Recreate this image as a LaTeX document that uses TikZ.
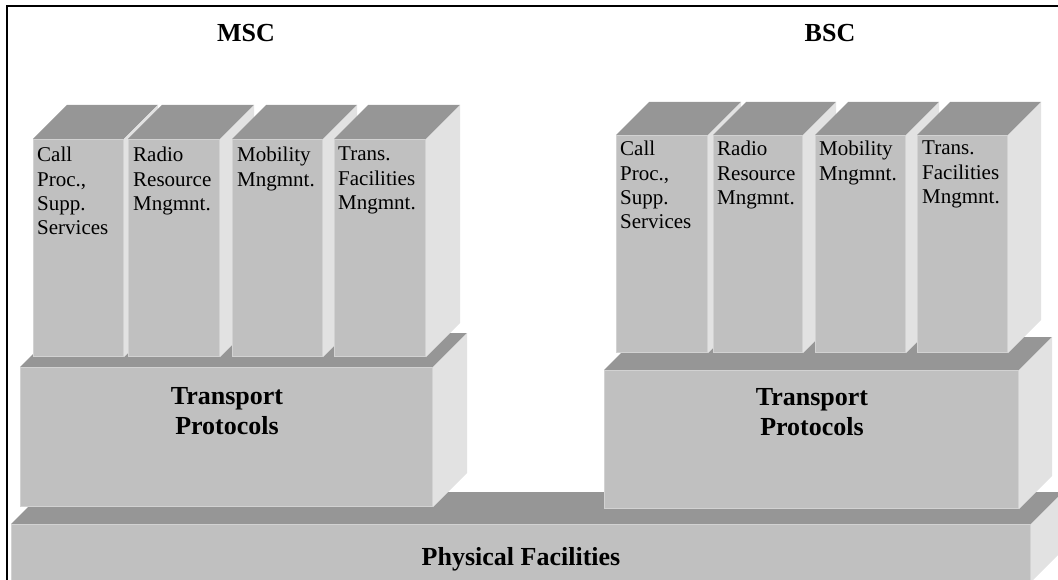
\documentclass[tikz,border=0pt]{standalone}
\usepackage{fontspec}
\setmainfont{Liberation Serif}
\definecolor{topgray}{HTML}{969696}
\definecolor{frontgray}{HTML}{C0C0C0}
\definecolor{sidegray}{HTML}{E2E2E2}
\definecolor{edgegray}{HTML}{D2D2D2}
\tikzset{
  topface/.style={fill=topgray},
  sideface/.style={fill=sidegray},
  frontface/.style={fill=frontgray, draw=edgegray, line width=1.2pt},
  coltext/.style={anchor=north west, inner sep=0pt, align=left,
    font=\fontsize{21}{24.4}\selectfont},
  boldtext/.style={inner sep=0pt, align=center,
    font=\bfseries\fontsize{26}{30.5}\selectfont},
}
% a block seen in oblique view: front x1..x2, top y1, bottom y2, depth d
\newcommand\slab[5]{%
  \fill[topface] (#1,#2) -- (#1+#5,#2-#5) -- (#3+#5,#2-#5) -- (#3,#2) -- cycle;
  \fill[sideface] (#3,#2) -- (#3+#5,#2-#5) -- (#3+#5,#4-#5) -- (#3,#4) -- cycle;
  \filldraw[frontface] (#1+0.6,#2+0.6) rectangle (#3-0.6,#4-0.6);
}
\begin{document}
\begin{tikzpicture}[x=1pt,y=-1pt]
\useasboundingbox (0,0) rectangle (1058,580);
\clip (0,0) rectangle (1058,580);

% outer frame
\draw[line width=2.3pt] (7,585) -- (7,6) -- (1060,6);

% base layer
\slab{11}{524}{1031}{582}{32}

% transport layers
\slab{20}{367}{433}{507}{34}
\slab{604}{370}{1019}{509}{33}

% MSC columns
\slab{33}{139}{124}{357}{34}
\slab{128}{139}{220}{357}{34}
\slab{232}{139}{323}{357}{34}
\slab{334}{139}{426}{357}{34}

% BSC columns
\slab{616}{135}{708}{353}{33}
\slab{713}{135}{803}{353}{33}
\slab{815}{135}{906}{353}{33}
\slab{917}{135}{1008}{353}{33}

% titles
\node[boldtext, anchor=base] (msc) at (246,42) {MSC};
\node[boldtext, anchor=base] (bsc) at (830,42) {BSC};

% MSC function labels
\node[coltext] (mcall) at (37,147) {Call\\Proc.,\\Supp.\\Services};
\node[coltext] (mradio) at (133,147) {Radio\\Resource\\Mngmnt.};
\node[coltext] (mmob) at (237,147) {Mobility\\Mngmnt.};
\node[coltext] (mtrans) at (338,147) {Trans.\\Facilities\\Mngmnt.};

% BSC function labels
\node[coltext] (bcall) at (620,141) {Call\\Proc.,\\Supp.\\Services};
\node[coltext] (bradio) at (717,141) {Radio\\Resource\\Mngmnt.};
\node[coltext] (bmob) at (819,141) {Mobility\\Mngmnt.};
\node[coltext] (btrans) at (922,141) {Trans.\\Facilities\\Mngmnt.};

% layer labels
\node[boldtext, anchor=north] (mtp) at (227,387) {Transport\\Protocols};
\node[boldtext, anchor=north] (btp) at (812,388) {Transport\\Protocols};
\node[boldtext, anchor=base] (phys) at (521,565) {Physical Facilities};
\end{tikzpicture}
\end{document}
